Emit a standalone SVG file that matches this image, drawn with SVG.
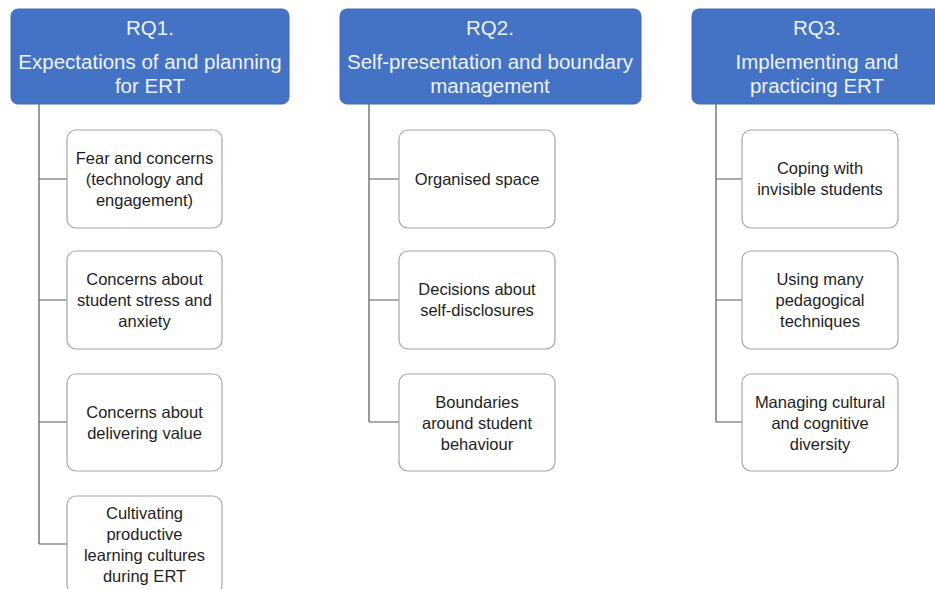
<svg xmlns="http://www.w3.org/2000/svg" width="935" height="589" viewBox="0 0 935 589">
<style>
.hdr{fill:#4472C4;stroke:#3F69B5;stroke-width:1}
.ht{font-family:"Liberation Sans",Arial,sans-serif;font-size:20.5px;fill:#EEF3FB;text-anchor:middle}
.box{fill:#FFFFFF;stroke:#A6A6A6;stroke-width:1.2}
.bt{font-family:"Liberation Sans",Arial,sans-serif;font-size:16.5px;fill:#1E1E1E;text-anchor:middle}
.cn{stroke:#595959;stroke-width:1.2;fill:none}
</style>
<rect width="935" height="589" fill="#FFFFFF"/>
<g id="connectors">
<path class="cn" d="M39,104 V544 M39,179 H67 M39,300 H67 M39,422 H67 M39,544 H67"/>
<path class="cn" d="M369,104 V422 M369,179 H399 M369,300 H399 M369,422 H399"/>
<path class="cn" d="M716,104 V422 M716,179 H742 M716,300 H742 M716,422 H742"/>
</g>
<g id="rq1">
<rect class="hdr" x="11" y="9" width="278" height="95" rx="7"/>
<text class="ht" x="150" y="35">RQ1.</text>
<text class="ht" x="150" y="69">Expectations of and planning</text>
<text class="ht" x="150" y="93">for ERT</text>
</g>
<g id="rq2">
<rect class="hdr" x="340" y="9" width="301" height="95" rx="7"/>
<text class="ht" x="490" y="35">RQ2.</text>
<text class="ht" x="490" y="69">Self-presentation and boundary</text>
<text class="ht" x="490" y="93">management</text>
</g>
<g id="rq3">
<rect class="hdr" x="692" y="9" width="251" height="95" rx="7"/>
<text class="ht" x="817" y="35">RQ3.</text>
<text class="ht" x="817" y="69">Implementing and</text>
<text class="ht" x="817" y="93">practicing ERT</text>
</g>
<g id="n1a">
<rect class="box" x="67" y="130" width="155" height="98" rx="9"/>
<text class="bt" x="144.5" y="164">Fear and concerns</text>
<text class="bt" x="144.5" y="185">(technology and</text>
<text class="bt" x="144.5" y="206">engagement)</text>
</g>
<g id="n1b">
<rect class="box" x="67" y="251" width="155" height="98" rx="9"/>
<text class="bt" x="144.5" y="285">Concerns about</text>
<text class="bt" x="144.5" y="306">student stress and</text>
<text class="bt" x="144.5" y="327">anxiety</text>
</g>
<g id="n1c">
<rect class="box" x="67" y="374" width="155" height="97" rx="9"/>
<text class="bt" x="144.5" y="418">Concerns about</text>
<text class="bt" x="144.5" y="439">delivering value</text>
</g>
<g id="n1d">
<rect class="box" x="67" y="496" width="155" height="98" rx="9"/>
<text class="bt" x="144.5" y="519">Cultivating</text>
<text class="bt" x="144.5" y="540">productive</text>
<text class="bt" x="144.5" y="561">learning cultures</text>
<text class="bt" x="144.5" y="582">during ERT</text>
</g>
<g id="n2a">
<rect class="box" x="399" y="130" width="156" height="98" rx="9"/>
<text class="bt" x="477" y="185">Organised space</text>
</g>
<g id="n2b">
<rect class="box" x="399" y="251" width="156" height="98" rx="9"/>
<text class="bt" x="477" y="295">Decisions about</text>
<text class="bt" x="477" y="316">self-disclosures</text>
</g>
<g id="n2c">
<rect class="box" x="399" y="374" width="156" height="97" rx="9"/>
<text class="bt" x="477" y="408">Boundaries</text>
<text class="bt" x="477" y="429">around student</text>
<text class="bt" x="477" y="450">behaviour</text>
</g>
<g id="n3a">
<rect class="box" x="742" y="130" width="156" height="98" rx="9"/>
<text class="bt" x="820" y="174">Coping with</text>
<text class="bt" x="820" y="195">invisible students</text>
</g>
<g id="n3b">
<rect class="box" x="742" y="251" width="156" height="98" rx="9"/>
<text class="bt" x="820" y="285">Using many</text>
<text class="bt" x="820" y="306">pedagogical</text>
<text class="bt" x="820" y="327">techniques</text>
</g>
<g id="n3c">
<rect class="box" x="742" y="374" width="156" height="97" rx="9"/>
<text class="bt" x="820" y="408">Managing cultural</text>
<text class="bt" x="820" y="429">and cognitive</text>
<text class="bt" x="820" y="450">diversity</text>
</g>
</svg>
